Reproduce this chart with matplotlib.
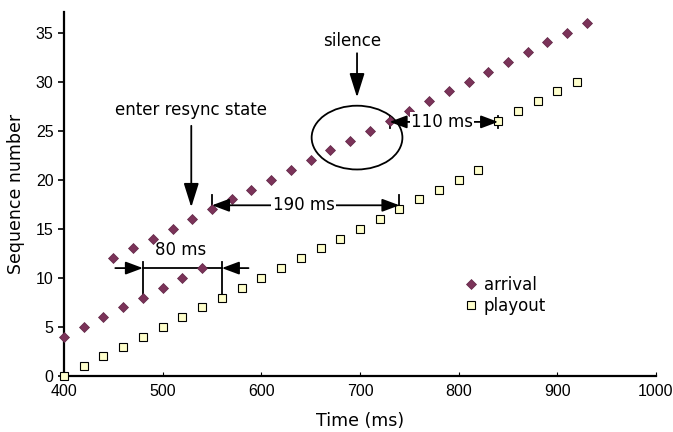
import matplotlib
matplotlib.use("Agg")
import matplotlib.pyplot as plt
from matplotlib.patches import Ellipse

plt.rcParams['font.family'] = ['DejaVu Sans']

# ---- data ----
arrival_time = [400, 420, 440, 460, 480, 500, 520, 540,
                450, 470, 490, 510, 530, 550, 570, 590, 610, 630, 650, 670,
                690, 710, 730, 750, 770, 790, 810, 830, 850, 870, 890, 910, 930]
arrival_seq = [4, 5, 6, 7, 8, 9, 10, 11,
               12, 13, 14, 15, 16, 17, 18, 19, 20, 21, 22, 23,
               24, 25, 26, 27, 28, 29, 30, 31, 32, 33, 34, 35, 36]
playout_time = [400, 420, 440, 460, 480, 500, 520, 540, 560, 580, 600, 620,
                640, 660, 680, 700, 720, 740, 760, 780, 800, 820,
                840, 860, 880, 900, 920]
playout_seq = [0, 1, 2, 3, 4, 5, 6, 7, 8, 9, 10, 11,
               12, 13, 14, 15, 16, 17, 18, 19, 20, 21,
               26, 27, 28, 29, 30]
x_ticks = [400, 500, 600, 700, 800, 900, 1000]
y_ticks = [0, 5, 10, 15, 20, 25, 30, 35]

fig = plt.figure(figsize=(6.73, 4.32), dpi=100)
ax = fig.add_axes([0.0951, 0.1296, 0.8796, 0.8426])

ax.plot(arrival_time, arrival_seq, linestyle='none', marker='D', markersize=5.2,
        markerfacecolor='#7b3359', markeredgecolor='#5e2444', markeredgewidth=0.5,
        label='arrival', clip_on=False, zorder=3)
ax.plot(playout_time, playout_seq, linestyle='none', marker='s', markersize=6,
        markerfacecolor='#ffffcc', markeredgecolor='black', markeredgewidth=0.8,
        label='playout', clip_on=False, zorder=3)

ax.set_xlim(400, 1000)
ax.set_ylim(0, 37.1)
ax.set_xticks(x_ticks)
ax.set_yticks(y_ticks)
ax.spines['top'].set_visible(False)
ax.spines['right'].set_visible(False)
for s in ('left', 'bottom'):
    ax.spines[s].set_linewidth(1.6)
ax.tick_params(axis='y', direction='out', length=4, width=1.2)
ax.tick_params(axis='x', direction='in', length=3, width=0.8, pad=6)
for lab in ax.get_xticklabels() + ax.get_yticklabels():
    lab.set_fontfamily(['Liberation Sans', 'DejaVu Sans'])
    lab.set_fontsize(11.5)
ax.set_xlabel('Time (ms)', fontsize=12.5, labelpad=9)
ax.set_ylabel('Sequence number', fontsize=12.5, labelpad=8)

lw = 1.3
txt = dict(fontsize=12, ha='center', va='center')
dim_head = '-|>,head_length=0.75,head_width=0.28'
dim_head2 = '<|-|>,head_length=0.75,head_width=0.28'
big_head = '-|>,head_length=1.05,head_width=0.33'

def arr(style, xy, xytext):
    ax.annotate('', xy=xy, xytext=xytext,
                arrowprops=dict(arrowstyle=style, color='black', lw=lw,
                                mutation_scale=14, shrinkA=0, shrinkB=0))

# 80 ms annotation
ax.plot([480, 480], [8.2, 11.6], color='black', lw=lw)
ax.plot([560, 560], [8.2, 11.6], color='black', lw=lw)
ax.plot([480, 560], [11, 11], color='black', lw=lw)
arr(dim_head, (480, 11), (452, 11))
arr(dim_head, (560, 11), (587, 11))
ax.text(518, 12.8, '80 ms', **txt)

# 190 ms annotation
ax.plot([550, 550], [16.7, 18.4], color='black', lw=lw)
ax.plot([740, 740], [16.7, 18.4], color='black', lw=lw)
arr(dim_head2, (550, 17.4), (740, 17.4))
ax.text(643, 17.4, '190 ms', bbox=dict(facecolor='white', edgecolor='none', pad=1), **txt)

# 110 ms annotation
ax.plot([730, 730], [25.3, 26.5], color='black', lw=lw)
ax.plot([840, 840], [25.3, 26.5], color='black', lw=lw)
arr(dim_head2, (730, 25.9), (840, 25.9))
ax.text(783, 25.9, '110 ms', bbox=dict(facecolor='white', edgecolor='none', pad=0.5), **txt)

# silence ellipse + arrow
ax.add_patch(Ellipse((697, 24.3), 92, 6.5, fill=False, edgecolor='black', lw=lw))
arr(big_head, (697, 28.4), (697, 32.9))
ax.text(692, 34.1, 'silence', **txt)

# enter resync state
arr(big_head, (529, 17.2), (529, 25.5))
ax.text(529, 27.1, 'enter resync state', **txt)

ax.legend(loc='upper left', bbox_to_anchor=((470 - 64) / 592 - 0.012, (376 - 276) / 364),
          frameon=False, fontsize=12, handletextpad=0.25, labelspacing=0.15,
          handlelength=1.0, borderaxespad=0, borderpad=0)

fig.savefig('out.png', dpi=100)
